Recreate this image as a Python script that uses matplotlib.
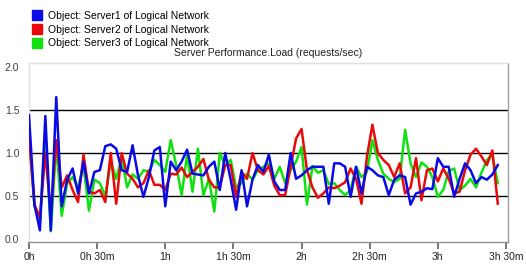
import numpy as np
import matplotlib
matplotlib.use('Agg')
import matplotlib.pyplot as plt
from matplotlib.lines import Line2D

plt.rcParams['font.family'] = ['Liberation Sans', 'DejaVu Sans']

# samples every 2.4 minutes
step_min = 2.4

server1 = [1.44, 0.40, 0.10, 1.43, 0.10, 1.65, 0.38, 0.69, 0.82, 0.53,
           0.90, 0.53, 0.78, 0.80, 1.08, 1.10, 1.05, 0.80, 0.78, 1.09,
           0.74, 0.49, 0.72, 1.03, 1.07, 0.38, 0.90, 0.80, 0.90, 1.04,
           0.76, 0.75, 0.74, 0.84, 0.90, 0.57, 1.00, 0.69, 0.34, 0.80,
           0.38, 0.69, 0.86, 0.78, 0.98, 0.67, 0.57, 0.57, 1.00, 0.70,
           0.74, 0.80, 0.84, 0.84, 0.84, 0.41, 0.88, 0.88, 0.84, 0.49,
           0.84, 0.53, 0.84, 0.80, 0.74, 0.72, 0.51, 0.69, 0.74, 0.72,
           0.40, 0.53, 0.55, 0.59, 0.58, 0.94, 0.84, 0.84, 0.49, 0.70,
           0.88, 0.80, 0.65, 0.72, 0.69, 0.75, 0.86]

server2 = [1.20, 0.40, 0.25, 1.00, 0.30, 1.15, 0.60, 0.74, 0.57, 0.43,
           0.98, 0.55, 0.53, 0.57, 0.43, 1.00, 0.41, 1.00, 0.76, 0.70,
           0.60, 0.65, 0.80, 0.63, 0.63, 0.57, 0.76, 0.75, 0.83, 0.72,
           0.78, 0.84, 0.93, 0.69, 0.60, 0.60, 0.86, 0.86, 0.49, 0.78,
           0.70, 1.00, 0.80, 0.75, 0.85, 0.62, 0.51, 0.51, 0.84, 1.17,
           1.28, 0.80, 0.60, 0.48, 0.53, 0.60, 0.59, 0.62, 0.66, 0.82,
           0.70, 0.41, 0.96, 1.33, 1.00, 0.92, 0.86, 0.72, 0.88, 0.53,
           0.60, 0.94, 0.45, 0.80, 0.82, 0.67, 0.82, 0.70, 0.53, 0.55,
           0.80, 0.98, 1.05, 0.96, 0.86, 1.03, 0.41]

server3 = [1.20, 0.38, 0.20, 1.20, 0.09, 1.10, 0.27, 0.65, 0.72, 0.60,
           0.85, 0.33, 0.69, 0.65, 0.50, 0.90, 0.70, 0.95, 0.60, 0.75,
           0.70, 0.80, 0.78, 0.92, 0.86, 0.78, 1.15, 0.86, 0.51, 0.98,
           0.55, 1.05, 0.51, 0.70, 0.32, 1.00, 0.85, 0.92, 0.60, 0.65,
           0.76, 0.69, 0.80, 0.84, 0.88, 0.70, 0.84, 0.65, 0.80, 0.90,
           1.07, 0.40, 0.85, 0.77, 0.80, 0.64, 0.65, 0.57, 0.51, 0.57,
           0.84, 0.72, 0.78, 1.15, 0.92, 0.76, 0.70, 0.66, 0.70, 1.27,
           0.88, 0.72, 0.89, 0.84, 0.72, 0.49, 0.57, 0.79, 0.82, 0.57,
           0.62, 0.70, 0.60, 0.77, 0.92, 0.98, 0.65]

labels = ['Object: Server1 of Logical Network',
          'Object: Server2 of Logical Network',
          'Object: Server3 of Logical Network']
colors = ['#0a0ae6', '#e80a0a', '#10e010']

tick_minutes = [0, 30, 60, 90, 120, 150, 180, 210]
tick_labels = ['0h', '0h 30m', '1h', '1h 30m', '2h', '2h 30m', '3h', '3h 30m']
y_ticks = [0.0, 0.5, 1.0, 1.5, 2.0]

t = np.arange(len(server1)) * step_min

fig = plt.figure(figsize=(5.26, 2.68), dpi=100)
ax = fig.add_axes([29 / 526, 1 - 242 / 268, 479 / 526, 179 / 268])

# draw green first, blue on top
for vals, c, z in zip([server3, server2, server1], colors[::-1], [3, 4, 5]):
    ax.plot(t, vals, color=c, lw=1.8, zorder=z)

ax.set_xlim(0, 210.9)
ax.set_ylim(-0.035, 2.047)
ax.set_xticks(tick_minutes)
ax.set_xticklabels(tick_labels)
ax.set_yticks(y_ticks)
ax.set_yticklabels(['%.1f' % v for v in y_ticks])

ax.tick_params(axis='x', direction='out', length=5, width=1.2, color='#606060',
               labelsize=7.5, labelcolor='#202020', pad=2)
ax.tick_params(axis='y', length=0, labelsize=7.5, labelcolor='#404040', pad=7)

ax.grid(axis='y', color='black', lw=1.0, zorder=1)
gl = ax.get_ygridlines()
gl[0].set_visible(False)
gl[-1].set_visible(False)

ax.spines['left'].set_color('#e0e0e0')
ax.spines['top'].set_color('#e0e0e0')
ax.spines['right'].set_color('#a0a0a0')
ax.spines['bottom'].set_color('#909090')
for s in ax.spines.values():
    s.set_linewidth(1.0)

ax.set_title('Server Performance.Load (requests/sec)', fontsize=7.5,
             color='#202020', pad=5)

handles = [Line2D([], [], marker='s', ls='none', markersize=7, color=c)
           for c in colors]
fig.legend(handles, labels, loc='upper left', bbox_to_anchor=(30 / 526, 1 - 9 / 268),
           frameon=False, fontsize=7.5, handlelength=1.0, handletextpad=0.5,
           labelspacing=0.35, borderaxespad=0, borderpad=0.2)

fig.savefig('out.png', dpi=100, facecolor='white')
